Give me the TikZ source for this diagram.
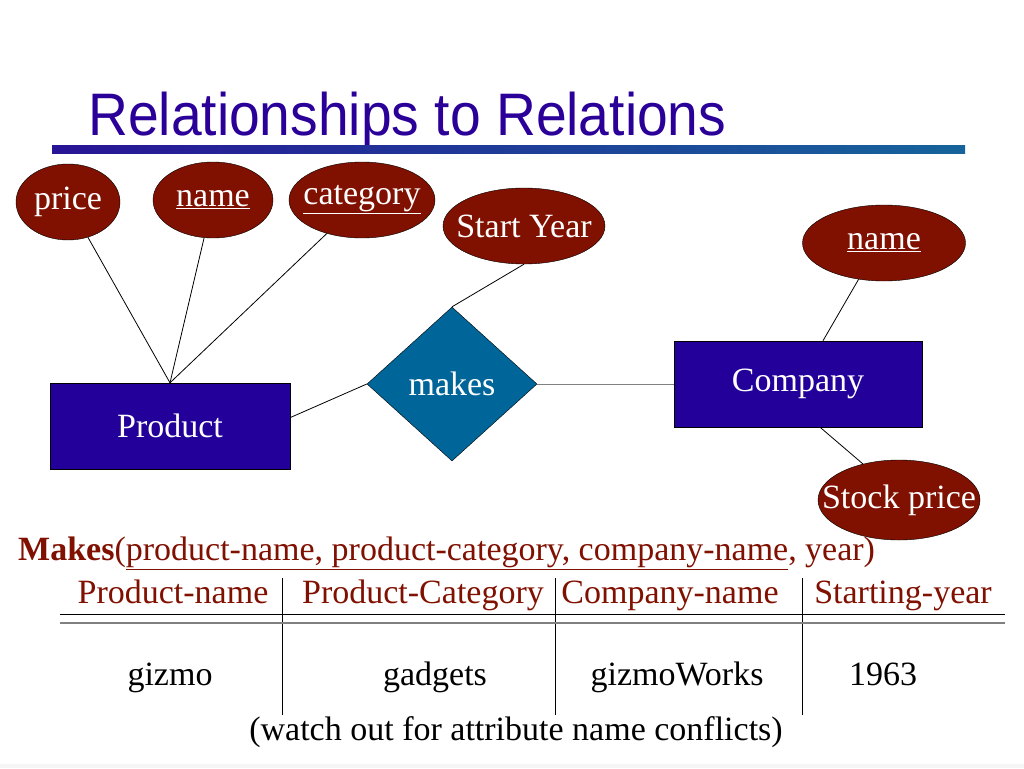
\documentclass[tikz,border=0pt]{standalone}
\usepackage{fontspec}
\setmainfont{Liberation Serif}
\newfontfamily\titlefont{Liberation Sans}
\usetikzlibrary{shapes.geometric,
                positioning}

\definecolor{attrred}{RGB}{128,17,0}
\definecolor{entblue}{RGB}{34,0,153}
\definecolor{relteal}{RGB}{0,102,153}
\definecolor{titleblue}{RGB}{42,0,153}
\definecolor{barleft}{RGB}{40,20,150}
\definecolor{barright}{RGB}{22,100,155}
\definecolor{tabred}{RGB}{128,16,0}

% ellipse text with no width, so the ellipse keeps its given size
\newcommand{\attrtext}[1]{\makebox[0pt]{#1}}

\tikzset{
    slidetext/.style = {font=\fontsize{34}{40}\selectfont, inner sep=0pt},
    attr/.style = {slidetext, ellipse, draw=black, fill=attrred, text=white, minimum height=76pt},
    entity/.style = {slidetext, rectangle, draw=black, fill=entblue, text=white, minimum height=86pt},
    rel/.style = {slidetext, diamond, draw=black, fill=relteal, text=white, minimum width=170pt, minimum height=154pt},
    link/.style = {line width=0.8pt, black},
    rule/.style = {line width=1pt, black},
    cell/.style = {slidetext, anchor=base}
}

\begin{document}
\begin{tikzpicture}[x=1pt, y=-1pt]
    \fill[white] (0,0) rectangle (1024,768);
    \useasboundingbox (0,0) rectangle (1024,768);

    % title and bar
    \node [anchor=base west, inner sep=0pt, text=titleblue, font=\titlefont\fontsize{60}{70}\selectfont] (title) at (88,135) {\scalebox{0.92}[1]{Relationships to Relations}};
    \shade [left color=barleft, right color=barright] (52,145) rectangle (965,153);

    % entities and relationship
    \node [entity, minimum width=240pt] (product) at (170,426) {Product};
    \node [entity, minimum width=248pt] (company) at (798,384) {Company};
    \node [rel] (makes) at (452,384) {makes};

    % attributes
    \node [attr, minimum width=104pt] (price) at (68,202) {\attrtext{price}};
    \node [attr, minimum width=120pt] (pname) at (213,200) {\attrtext{\underline{name}}};
    \node [attr, minimum width=146pt] (pcat) at (362,200) {\attrtext{\underline{category}}};
    \node [attr, minimum width=162pt] (year) at (524,226) {\attrtext{Start Year}};
    \node [attr, minimum width=163pt] (cname) at (884,243) {\attrtext{\underline{name}}};
    \node [attr, minimum width=162pt, minimum height=80pt] (stock) at (899,500) {\attrtext{Stock price}};

    \draw [link] (price) -- (product.north);
    \draw [link] (pname) -- (product.north);
    \draw [link] (pcat) -- (product.north);
    \draw [link] (year.south) -- (makes.north);
    \draw [link] (product.4) -- (makes.west);
    \draw [link, gray] (makes.east) -- (company.west);
    \draw [link] (cname.235) -- (company.60);
    \draw [link] (company.-63) -- (stock.135);

    % relation schema
    \node [slidetext, anchor=base west, text=tabred] (schema) at (18,560) {\textbf{Makes}(\underline{product-name, product-category, company-name}, year)};

    \node [cell, text=tabred] (h1) at (173,603) {Product-name};
    \node [cell, text=tabred] (h2) at (423,603) {Product-Category};
    \node [cell, text=tabred] (h3) at (670,603) {Company-name};
    \node [cell, text=tabred] (h4) at (903,603) {Starting-year};

    \draw [rule] (282,578) -- (282,715);
    \draw [rule] (555,578) -- (555,715);
    \draw [rule] (802,578) -- (802,715);
    \draw [rule] (60,614) -- (1005,614);
    \draw [line width=2.5pt, gray] (60,623) -- (1005,623);

    \node [cell] (d1) at (170,685) {gizmo};
    \node [cell] (d2) at (435,685) {gadgets};
    \node [cell] (d3) at (677,685) {gizmoWorks};
    \node [cell] (d4) at (883,685) {1963};

    \node [cell] (note) at (516,740) {(watch out for attribute name conflicts)};

    \fill [gray!8] (0,764) rectangle (1024,768);
\end{tikzpicture}
\end{document}
